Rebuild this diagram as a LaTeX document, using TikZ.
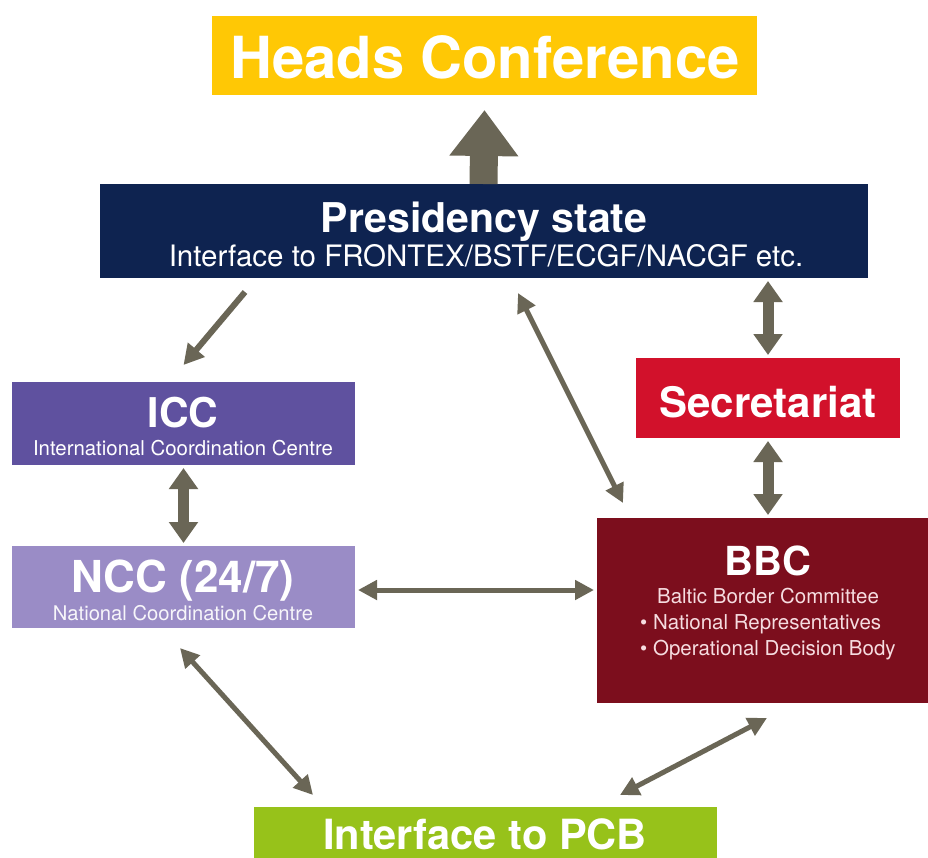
\documentclass[tikz,border=0pt]{standalone}
\usepackage{fontspec}
\setmainfont{TeX Gyre Heros}
\usetikzlibrary{arrows.meta,calc}
\definecolor{cheads}{HTML}{FFC805}
\definecolor{cpres}{HTML}{0E2350}
\definecolor{cicc}{HTML}{5F519F}
\definecolor{cncc}{HTML}{9A8CC6}
\definecolor{csec}{HTML}{D2112B}
\definecolor{cbbc}{HTML}{7C0E1D}
\definecolor{cpcb}{HTML}{97C21A}
\definecolor{carr}{HTML}{6A6656}
\definecolor{cpink}{HTML}{F6DCE0}
\tikzset{
  box/.style={rectangle, inner sep=0pt, outer sep=0pt},
  lbl/.style={anchor=base, inner sep=0pt, text=white},
  lbll/.style={anchor=base west, inner sep=0pt, text=cpink},
  thin/.style={draw=carr, line width=5pt, {Triangle[length=19pt,width=19pt]}-{Triangle[length=19pt,width=19pt]}},
  thinone/.style={draw=carr, line width=6pt, -{Triangle[length=20pt,width=21pt]}},
  thick/.style={draw=carr, line width=11pt, {Triangle[length=21pt,width=28pt]}-{Triangle[length=21pt,width=28pt]}},
}
\newcommand{\fs}[1]{\fontsize{#1}{#1}\selectfont}
\begin{document}
\begin{tikzpicture}[x=1pt,y=-1pt]
\useasboundingbox[fill=white] (0,0) rectangle (928,857);
\clip (0,0) rectangle (928,857);
% boxes
\node[box, fill=cheads, minimum width=545pt, minimum height=79pt] (heads) at (484.5,55.5) {};
\node[box, fill=cpres, minimum width=768pt, minimum height=94pt] (pres) at (484,231) {};
\node[box, fill=cicc, minimum width=343pt, minimum height=83pt] (icc) at (183.5,423.5) {};
\node[box, fill=cncc, minimum width=343pt, minimum height=82pt] (ncc) at (183.5,587) {};
\node[box, fill=csec, minimum width=264pt, minimum height=80pt] (sec) at (768,398) {};
\node[box, fill=cbbc, minimum width=331pt, minimum height=185pt] (bbc) at (762.5,610.5) {};
\node[box, fill=cpcb, minimum width=463pt, minimum height=80pt] (pcb) at (485.5,847) {};
% texts
\node[lbl] (headsT) at (485,78) {\fs{58}\bfseries Heads Conference};
\node[lbl] (presT) at (484,232) {\fs{41}\bfseries Presidency state};
\node[lbl] (presS) at (486,266) {\fs{29.5}Interface to FRONTEX/BSTF/ECGF/NACGF etc.};
\node[lbl] (iccT) at (183,427) {\fs{41}\bfseries ICC};
\node[lbl] (iccS) at (183,455) {\fs{20.4}International Coordination Centre};
\node[lbl] (nccT) at (183,592) {\fs{44}\bfseries NCC (24/7)};
\node[lbl, text=white!92!cncc] (nccS) at (183,620) {\fs{20.2}National Coordination Centre};
\node[lbl] (secT) at (768,417) {\fs{42}\bfseries Secretariat};
\node[lbl] (bbcT) at (768,575) {\fs{40}\bfseries BBC};
\node[lbl, text=cpink] (bbcS) at (768,603) {\fs{20.5}Baltic Border Committee};
\node[lbll] (bbcA) at (640,629) {\fs{20.5}\textbullet\ National Representatives};
\node[lbll] (bbcB) at (640,655) {\fs{20.5}\textbullet\ Operational Decision Body};
\node[lbl] (pcbT) at (485,849) {\fs{41.6}\bfseries Interface to PCB};
% big arrow
\draw[carr, line width=28pt, -{Triangle[length=46pt,width=66pt]}] ([xshift=-0.5pt]pres.north) -- ([yshift=-15pt]heads.south);
% connectors
\draw[thinone] ([xshift=-239pt,yshift=-14pt]pres.south) -- ([yshift=17pt]icc.north);
\draw[thick] ([yshift=-3pt]icc.south) -- ([yshift=3pt]ncc.north);
\draw[thin] ([xshift=3pt,yshift=-3pt]ncc.east) -- ([xshift=-3pt,yshift=20.5pt]bbc.west);
\draw[thin] ([xshift=34pt,yshift=-15pt]pres.south) -- ([xshift=26pt,yshift=15pt]bbc.north west);
\draw[thick] ([xshift=-100pt,yshift=-3pt]pres.south east) -- ([yshift=3pt]sec.north);
\draw[thick] ([yshift=-3pt]sec.south) -- ([xshift=5.5pt,yshift=3pt]bbc.north);
\draw[thin] ([xshift=-3.5pt,yshift=-20pt]ncc.south) -- ([xshift=-172.5pt,yshift=12pt]pcb.north);
\draw[thin] ([xshift=4.5pt,yshift=-15pt]bbc.south) -- ([xshift=134.5pt,yshift=12pt]pcb.north);
\end{tikzpicture}
\end{document}
